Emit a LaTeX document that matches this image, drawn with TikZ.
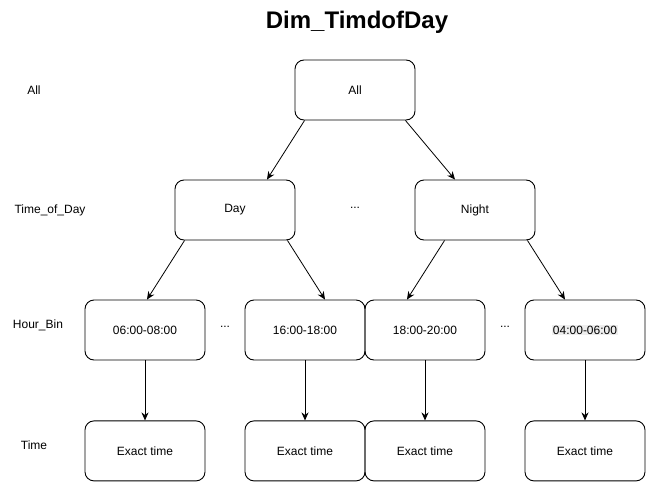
\documentclass[tikz,border=0pt]{standalone}
\usepackage{fontspec}
\setmainfont{Liberation Sans}
\usetikzlibrary{positioning}
\usetikzlibrary{arrows.meta}
\definecolor{hlgray}{HTML}{EEEEEE}
\tikzset{>={Stealth[length=8pt,width=7pt]}}
\tikzset{box/.style={draw, rounded corners=9pt, minimum width=120pt, minimum height=60pt, inner sep=0pt, line width=0.9pt, font=\fontsize{12}{14}\selectfont}}
\tikzset{lvl/.style={font=\fontsize{12}{14}\selectfont}}
\tikzset{ed/.style={->, line width=0.8pt}}

\begin{document}
\begin{tikzpicture}[x=1pt, y=-1pt]
\useasboundingbox (0,0) rectangle (646,482);

%%% title and level names

\node[font=\fontsize{24}{28}\selectfont\bfseries] (title) at (357,22) {Dim\_TimdofDay};

\node[lvl] (lAll) at (34,90) {All};
\node[lvl] (lTod) at (50,210) {Time\_of\_Day};
\node[lvl] (lBin) at (38,325) {Hour\_Bin};
\node[lvl] (lTime) at (34,445) {Time};

%%% the tree

\node[box] (all) at (355,90) {All};

\node[box] (day) at (235,210) {Day};
\node[box] (night) at (475,210) {Night};
\node[lvl] (dots1) at (355,208) {...};

\node[box] (h1) at (145,330) {06:00-08:00};
\node[box] (h2) at (305,330) {16:00-18:00};
\node[box] (h3) at (425,330) {18:00-20:00};
\node[box] (h4) at (585,330) {\setlength{\fboxsep}{1pt}\colorbox{hlgray}{04:00-06:00}};
\node[lvl] (dots2) at (225,327) {...};
\node[lvl] (dots3) at (505,327) {...};

\node[box, below=60pt of h1] (t1) {Exact time};
\node[box, below=60pt of h2] (t2) {Exact time};
\node[box, below=60pt of h3] (t3) {Exact time};
\node[box, below=60pt of h4] (t4) {Exact time};

\draw[ed] ([xshift=10pt]all.south west) -- ([xshift=32pt]day.north);
\draw[ed] ([xshift=-10pt]all.south east) -- ([xshift=-20pt]night.north);

\draw[ed] ([xshift=10pt]day.south west) -- ([xshift=2pt]h1.north);
\draw[ed] ([xshift=-8pt]day.south east) -- ([xshift=20pt]h2.north);
\draw[ed] ([xshift=30pt]night.south west) -- ([xshift=-18pt]h3.north);
\draw[ed] ([xshift=-8pt]night.south east) -- ([xshift=-20pt]h4.north);

\draw[ed] (h1) -- (t1);
\draw[ed] (h2) -- (t2);
\draw[ed] (h3) -- (t3);
\draw[ed] (h4) -- (t4);

\end{tikzpicture}
\end{document}
